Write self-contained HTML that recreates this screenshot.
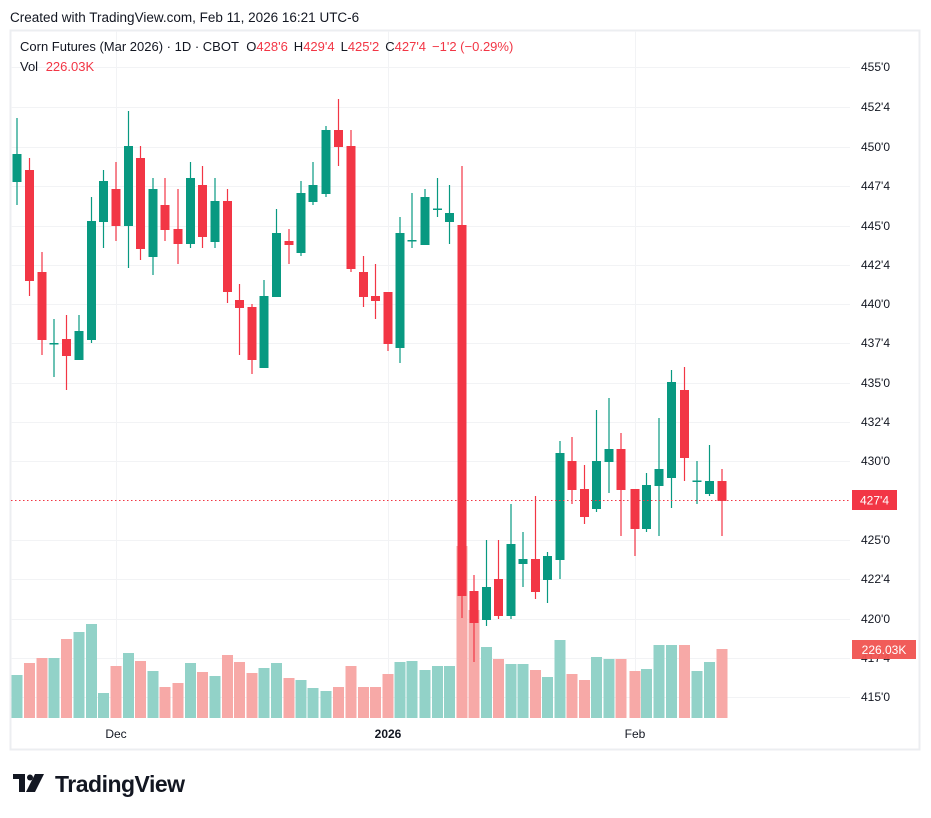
<!DOCTYPE html>
<html><head><meta charset="utf-8"><style>
body{margin:0;background:#fff;width:931px;height:818px;overflow:hidden;font-family:"Liberation Sans",sans-serif}
svg{position:absolute;left:0;top:0}
</style></head><body>
<svg width="931" height="818" viewBox="0 0 931 818" xmlns="http://www.w3.org/2000/svg" font-family="Liberation Sans, sans-serif">
<rect x="0" y="0" width="931" height="818" fill="#fff"/>
<text x="10" y="22" font-size="13.5" fill="#131722">Created with TradingView.com, Feb 11, 2026 16:21 UTC-6</text>
<rect x="10.5" y="30.5" width="909" height="719" fill="none" stroke="#eceef1" stroke-width="2"/>
<g stroke="#f2f3f5" stroke-width="1">
<line x1="11" x2="850" y1="67.5" y2="67.5"/><line x1="11" x2="850" y1="107.5" y2="107.5"/><line x1="11" x2="850" y1="147.5" y2="147.5"/><line x1="11" x2="850" y1="186.5" y2="186.5"/><line x1="11" x2="850" y1="226.5" y2="226.5"/><line x1="11" x2="850" y1="265.5" y2="265.5"/><line x1="11" x2="850" y1="304.5" y2="304.5"/><line x1="11" x2="850" y1="343.5" y2="343.5"/><line x1="11" x2="850" y1="383.5" y2="383.5"/><line x1="11" x2="850" y1="422.5" y2="422.5"/><line x1="11" x2="850" y1="461.5" y2="461.5"/><line x1="11" x2="850" y1="540.5" y2="540.5"/><line x1="11" x2="850" y1="579.5" y2="579.5"/><line x1="11" x2="850" y1="619.5" y2="619.5"/><line x1="11" x2="850" y1="658.5" y2="658.5"/><line x1="11" x2="850" y1="697.5" y2="697.5"/>
<line x1="116.5" x2="116.5" y1="31" y2="718"/><line x1="388.5" x2="388.5" y1="31" y2="718"/><line x1="635.5" x2="635.5" y1="31" y2="718"/>
</g>
<text font-size="12" fill="#131722" x="861">
<tspan y="71">455'0</tspan><tspan x="861" y="111">452'4</tspan><tspan x="861" y="151">450'0</tspan><tspan x="861" y="190">447'4</tspan><tspan x="861" y="230">445'0</tspan><tspan x="861" y="269">442'4</tspan><tspan x="861" y="308">440'0</tspan><tspan x="861" y="347">437'4</tspan><tspan x="861" y="387">435'0</tspan><tspan x="861" y="426">432'4</tspan><tspan x="861" y="465">430'0</tspan><tspan x="861" y="544">425'0</tspan><tspan x="861" y="583">422'4</tspan><tspan x="861" y="623">420'0</tspan><tspan x="861" y="662">417'4</tspan><tspan x="861" y="701">415'0</tspan>
</text>
<g>
<rect x="11.5" y="675" width="11" height="43" fill="#92d2c8"/><rect x="24" y="663" width="11" height="55" fill="#f7a9a7"/><rect x="36.5" y="658" width="11" height="60" fill="#f7a9a7"/><rect x="48.5" y="658" width="11" height="60" fill="#92d2c8"/><rect x="61" y="639" width="11" height="79" fill="#f7a9a7"/><rect x="73.5" y="632" width="11" height="86" fill="#92d2c8"/><rect x="86" y="624" width="11" height="94" fill="#92d2c8"/><rect x="98" y="693" width="11" height="25" fill="#92d2c8"/><rect x="110.5" y="666" width="11" height="52" fill="#f7a9a7"/><rect x="123" y="653" width="11" height="65" fill="#92d2c8"/><rect x="135" y="661" width="11" height="57" fill="#f7a9a7"/><rect x="147.5" y="671" width="11" height="47" fill="#92d2c8"/><rect x="159.5" y="687" width="11" height="31" fill="#f7a9a7"/><rect x="172.5" y="683" width="11" height="35" fill="#f7a9a7"/><rect x="185" y="663" width="11" height="55" fill="#92d2c8"/><rect x="197" y="672" width="11" height="46" fill="#f7a9a7"/><rect x="209.5" y="676" width="11" height="42" fill="#92d2c8"/><rect x="222" y="655" width="11" height="63" fill="#f7a9a7"/><rect x="234" y="662" width="11" height="56" fill="#f7a9a7"/><rect x="246.5" y="673" width="11" height="45" fill="#f7a9a7"/><rect x="258.5" y="668" width="11" height="50" fill="#92d2c8"/><rect x="271" y="663" width="11" height="55" fill="#92d2c8"/><rect x="283.5" y="678" width="11" height="40" fill="#f7a9a7"/><rect x="295.5" y="680" width="11" height="38" fill="#92d2c8"/><rect x="307.5" y="688" width="11" height="30" fill="#92d2c8"/><rect x="320.5" y="691" width="11" height="27" fill="#92d2c8"/><rect x="333" y="687" width="11" height="31" fill="#f7a9a7"/><rect x="345.5" y="666" width="11" height="52" fill="#f7a9a7"/><rect x="358" y="687" width="11" height="31" fill="#f7a9a7"/><rect x="370" y="687" width="11" height="31" fill="#f7a9a7"/><rect x="382.5" y="674" width="11" height="44" fill="#f7a9a7"/><rect x="394.5" y="662" width="11" height="56" fill="#92d2c8"/><rect x="406.5" y="661" width="11" height="57" fill="#92d2c8"/><rect x="419.5" y="670" width="11" height="48" fill="#92d2c8"/><rect x="432" y="666" width="11" height="52" fill="#92d2c8"/><rect x="444" y="666" width="11" height="52" fill="#92d2c8"/><rect x="456.5" y="546" width="11" height="172" fill="#f7a9a7"/><rect x="468.5" y="610" width="11" height="108" fill="#f7a9a7"/><rect x="481" y="647" width="11" height="71" fill="#92d2c8"/><rect x="493" y="659" width="11" height="59" fill="#f7a9a7"/><rect x="505.5" y="664" width="11" height="54" fill="#92d2c8"/><rect x="517.5" y="664" width="11" height="54" fill="#92d2c8"/><rect x="530" y="670" width="11" height="48" fill="#f7a9a7"/><rect x="542" y="677" width="11" height="41" fill="#92d2c8"/><rect x="554.5" y="640" width="11" height="78" fill="#92d2c8"/><rect x="566.5" y="674" width="11" height="44" fill="#f7a9a7"/><rect x="579" y="680" width="11" height="38" fill="#f7a9a7"/><rect x="591" y="657" width="11" height="61" fill="#92d2c8"/><rect x="603.5" y="659" width="11" height="59" fill="#92d2c8"/><rect x="615.5" y="659" width="11" height="59" fill="#f7a9a7"/><rect x="629.5" y="671" width="11" height="47" fill="#f7a9a7"/><rect x="641" y="669" width="11" height="49" fill="#92d2c8"/><rect x="653.5" y="645" width="11" height="73" fill="#92d2c8"/><rect x="666" y="645" width="11" height="73" fill="#92d2c8"/><rect x="679" y="645" width="11" height="73" fill="#f7a9a7"/><rect x="691.5" y="671" width="11" height="47" fill="#92d2c8"/><rect x="704" y="662" width="11" height="56" fill="#92d2c8"/><rect x="716.5" y="649" width="11" height="69" fill="#f7a9a7"/>
</g>
<g stroke-width="1.2">
<g stroke="#089981" fill="#089981">
<line x1="17" x2="17" y1="118" y2="205"/><rect x="12.5" y="154" width="9" height="28" stroke="none"/>
<line x1="54" x2="54" y1="319" y2="377"/><rect x="49.5" y="343" width="9" height="1.5" stroke="none"/>
<line x1="79" x2="79" y1="315" y2="360"/><rect x="74.5" y="331" width="9" height="29" stroke="none"/>
<line x1="91.5" x2="91.5" y1="197" y2="343"/><rect x="87" y="221" width="9" height="119" stroke="none"/>
<line x1="103.5" x2="103.5" y1="170" y2="248"/><rect x="99" y="181" width="9" height="41" stroke="none"/>
<line x1="128.5" x2="128.5" y1="111" y2="268"/><rect x="124" y="146" width="9" height="80" stroke="none"/>
<line x1="153" x2="153" y1="178" y2="275"/><rect x="148.5" y="189" width="9" height="68" stroke="none"/>
<line x1="190.5" x2="190.5" y1="162" y2="248"/><rect x="186" y="178" width="9" height="66" stroke="none"/>
<line x1="215" x2="215" y1="178" y2="248"/><rect x="210.5" y="201" width="9" height="41" stroke="none"/>
<line x1="264" x2="264" y1="280" y2="368"/><rect x="259.5" y="296" width="9" height="72" stroke="none"/>
<line x1="276.5" x2="276.5" y1="209" y2="297"/><rect x="272" y="233" width="9" height="64" stroke="none"/>
<line x1="301" x2="301" y1="181" y2="256"/><rect x="296.5" y="193" width="9" height="60" stroke="none"/>
<line x1="313" x2="313" y1="162" y2="205"/><rect x="308.5" y="185" width="9" height="17" stroke="none"/>
<line x1="326" x2="326" y1="126" y2="197"/><rect x="321.5" y="130" width="9" height="64" stroke="none"/>
<line x1="400" x2="400" y1="217" y2="363"/><rect x="395.5" y="233" width="9" height="115" stroke="none"/>
<line x1="412" x2="412" y1="193" y2="248"/><rect x="407.5" y="240" width="9" height="1.5" stroke="none"/>
<line x1="425" x2="425" y1="189" y2="245"/><rect x="420.5" y="197" width="9" height="48" stroke="none"/>
<line x1="437.5" x2="437.5" y1="178" y2="217"/><rect x="433" y="208.5" width="9" height="1.5" stroke="none"/>
<line x1="449.5" x2="449.5" y1="185" y2="244"/><rect x="445" y="213" width="9" height="9" stroke="none"/>
<line x1="486.5" x2="486.5" y1="540" y2="626"/><rect x="482" y="587" width="9" height="33" stroke="none"/>
<line x1="511" x2="511" y1="504" y2="619"/><rect x="506.5" y="544" width="9" height="72" stroke="none"/>
<line x1="523" x2="523" y1="532" y2="587"/><rect x="518.5" y="559" width="9" height="5" stroke="none"/>
<line x1="547.5" x2="547.5" y1="552" y2="603"/><rect x="543" y="556" width="9" height="24" stroke="none"/>
<line x1="560" x2="560" y1="441" y2="579"/><rect x="555.5" y="453" width="9" height="107" stroke="none"/>
<line x1="596.5" x2="596.5" y1="410" y2="512"/><rect x="592" y="461" width="9" height="48" stroke="none"/>
<line x1="609" x2="609" y1="398" y2="493"/><rect x="604.5" y="449" width="9" height="13" stroke="none"/>
<line x1="646.5" x2="646.5" y1="473" y2="532"/><rect x="642" y="485" width="9" height="44" stroke="none"/>
<line x1="659" x2="659" y1="418" y2="536"/><rect x="654.5" y="469" width="9" height="17" stroke="none"/>
<line x1="671.5" x2="671.5" y1="370" y2="508"/><rect x="667" y="382" width="9" height="96" stroke="none"/>
<line x1="697" x2="697" y1="461" y2="504"/><rect x="692.5" y="480.5" width="9" height="1.5" stroke="none"/>
<line x1="709.5" x2="709.5" y1="445" y2="496"/><rect x="705" y="481" width="9" height="13" stroke="none"/>
</g>
<g stroke="#f23645" fill="#f23645">
<line x1="29.5" x2="29.5" y1="158" y2="296"/><rect x="25" y="170" width="9" height="111" stroke="none"/>
<line x1="42" x2="42" y1="252" y2="355"/><rect x="37.5" y="272" width="9" height="68" stroke="none"/>
<line x1="66.5" x2="66.5" y1="315" y2="390"/><rect x="62" y="339" width="9" height="17" stroke="none"/>
<line x1="116" x2="116" y1="162" y2="241"/><rect x="111.5" y="189" width="9" height="37" stroke="none"/>
<line x1="140.5" x2="140.5" y1="146" y2="260"/><rect x="136" y="158" width="9" height="91" stroke="none"/>
<line x1="165" x2="165" y1="178" y2="241"/><rect x="160.5" y="205" width="9" height="25" stroke="none"/>
<line x1="178" x2="178" y1="189" y2="264"/><rect x="173.5" y="229" width="9" height="15" stroke="none"/>
<line x1="202.5" x2="202.5" y1="166" y2="248"/><rect x="198" y="185" width="9" height="52" stroke="none"/>
<line x1="227.5" x2="227.5" y1="189" y2="303"/><rect x="223" y="201" width="9" height="91" stroke="none"/>
<line x1="239.5" x2="239.5" y1="284" y2="355"/><rect x="235" y="300" width="9" height="8" stroke="none"/>
<line x1="252" x2="252" y1="304" y2="374"/><rect x="247.5" y="307" width="9" height="53" stroke="none"/>
<line x1="289" x2="289" y1="229" y2="264"/><rect x="284.5" y="241" width="9" height="4" stroke="none"/>
<line x1="338.5" x2="338.5" y1="99" y2="166"/><rect x="334" y="130" width="9" height="17" stroke="none"/>
<line x1="351" x2="351" y1="130" y2="272"/><rect x="346.5" y="146" width="9" height="123" stroke="none"/>
<line x1="363.5" x2="363.5" y1="256" y2="307"/><rect x="359" y="272" width="9" height="25" stroke="none"/>
<line x1="375.5" x2="375.5" y1="264" y2="319"/><rect x="371" y="296" width="9" height="5" stroke="none"/>
<line x1="388" x2="388" y1="292" y2="351"/><rect x="383.5" y="292" width="9" height="52" stroke="none"/>
<line x1="462" x2="462" y1="166" y2="618"/><rect x="457.5" y="225" width="9" height="371" stroke="none"/>
<line x1="474" x2="474" y1="575" y2="662"/><rect x="469.5" y="591" width="9" height="32" stroke="none"/>
<line x1="498.5" x2="498.5" y1="540" y2="619"/><rect x="494" y="579" width="9" height="37" stroke="none"/>
<line x1="535.5" x2="535.5" y1="496" y2="599"/><rect x="531" y="559" width="9" height="33" stroke="none"/>
<line x1="572" x2="572" y1="437" y2="504"/><rect x="567.5" y="461" width="9" height="29" stroke="none"/>
<line x1="584.5" x2="584.5" y1="465" y2="524"/><rect x="580" y="489" width="9" height="28" stroke="none"/>
<line x1="621" x2="621" y1="433" y2="536"/><rect x="616.5" y="449" width="9" height="41" stroke="none"/>
<line x1="635" x2="635" y1="489" y2="556"/><rect x="630.5" y="489" width="9" height="40" stroke="none"/>
<line x1="684.5" x2="684.5" y1="367" y2="481"/><rect x="680" y="390" width="9" height="68" stroke="none"/>
<line x1="722" x2="722" y1="469" y2="536"/><rect x="717.5" y="481" width="9" height="20" stroke="none"/>
</g>
</g>
<line x1="11" x2="850" y1="500.5" y2="500.5" stroke="#f23645" stroke-width="1" stroke-dasharray="1.5,2.5"/>
<rect x="852" y="490" width="45" height="20" fill="#f23645"/>
<text x="874.5" y="504.5" font-size="12" fill="#fff" text-anchor="middle">427'4</text>
<rect x="852" y="640" width="64" height="19" fill="#f05350" fill-opacity="0.95"/>
<text x="884" y="654" font-size="12" fill="#fff" text-anchor="middle">226.03K</text>
<text x="116" y="738" font-size="12" fill="#131722" text-anchor="middle">Dec</text>
<text x="388" y="738" font-size="12" fill="#131722" text-anchor="middle" font-weight="bold">2026</text>
<text x="635" y="738" font-size="12" fill="#131722" text-anchor="middle">Feb</text>
<text x="20" y="51" font-size="13" fill="#131722">Corn Futures (Mar 2026) · 1D · CBOT <tspan dx="4">O</tspan><tspan fill="#f23645">428'6</tspan><tspan dx="6">H</tspan><tspan fill="#f23645">429'4</tspan><tspan dx="6">L</tspan><tspan fill="#f23645">425'2</tspan><tspan dx="6">C</tspan><tspan fill="#f23645">427'4</tspan><tspan dx="6" fill="#f23645">−1'2 (−0.29%)</tspan></text>
<text x="20" y="71" font-size="13" fill="#131722">Vol <tspan dx="4" fill="#f23645">226.03K</tspan></text>
<g fill="#131722">
<rect x="13" y="774" width="12" height="5"/><rect x="19" y="774" width="6" height="18"/>
<circle cx="30" cy="777.5" r="3"/>
<polygon points="35,774 44,774 35,792 26,792"/>
</g>
<text x="55" y="792" font-size="23" font-weight="bold" fill="#131722" letter-spacing="-0.5">TradingView</text>
</svg>
</body></html>
